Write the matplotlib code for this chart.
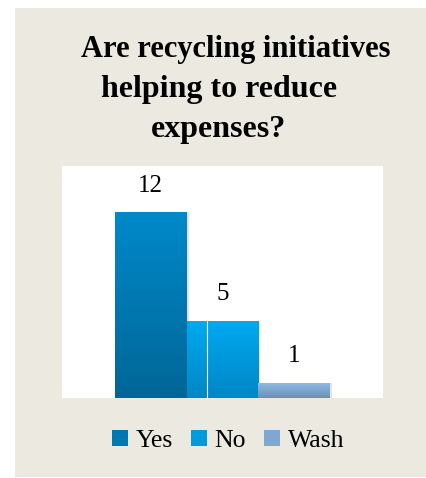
import numpy as np
import matplotlib
matplotlib.use("Agg")
import matplotlib.pyplot as plt
from matplotlib.patches import Rectangle, Patch
from matplotlib.colors import LinearSegmentedColormap

# Survey answers
categories = ["Yes", "No", "Wash"]
counts = [12, 5, 1]
title_lines = ["Are recycling initiatives", "helping to reduce", "expenses?"]

# top / bottom colours of each bar's vertical gradient
top_colors = ["#0089CA", "#00AAF0", "#90BFE8"]
bottom_colors = ["#006697", "#0087C6", "#6C8FB0"]
legend_colors = ["#0078B2", "#009BDC", "#7FA8D0"]

W, H = 427, 478
fig = plt.figure(figsize=(W / 100, H / 100), dpi=100)
fig.patch.set_facecolor("white")

# beige card behind everything
fig.patches.append(Rectangle((15 / W, 1 - 477 / H), (427 - 15) / W, (477 - 8) / H,
                             transform=fig.transFigure, facecolor="#ECEAE0",
                             edgecolor="none", zorder=-5))

serif = ["Liberation Serif", "DejaVu Serif"]

# title, one line per call to control wrapping
fig.text(236 / W, 1 - 57 / H, title_lines[0], ha="center", va="baseline",
         fontsize=22, fontweight="bold", family=serif)
fig.text(219 / W, 1 - 97 / H, title_lines[1], ha="center", va="baseline",
         fontsize=23, fontweight="bold", family=serif)
fig.text(219 / W, 1 - 137 / H, title_lines[2], ha="center", va="baseline",
         fontsize=23, fontweight="bold", family=serif)

ax = fig.add_axes([62 / W, 1 - 398 / H, (383 - 62) / W, (398 - 166) / H])
ax.set_zorder(1)
ax.set_facecolor("white")
for s in ax.spines.values():
    s.set_visible(False)
ax.set_xticks([])
ax.set_yticks([])

n = len(categories)
xs = np.arange(n) - (n - 1) / 2
bars = ax.bar(xs, counts, width=1.0, color=legend_colors, edgecolor="none", zorder=2)

# soft shadow to the right of each bar
for b in bars:
    ax.add_patch(Rectangle((b.get_x() + 0.03, 0), b.get_width(), b.get_height(),
                           facecolor="black", alpha=0.10, edgecolor="none", zorder=1))

# vertical gradient fill clipped to every bar
grad = np.linspace(0, 1, 256).reshape(-1, 1)
for b, c_top, c_bot in zip(bars, top_colors, bottom_colors):
    cmap = LinearSegmentedColormap.from_list("g", [c_bot, c_top])
    im = ax.imshow(grad, cmap=cmap, origin="lower", aspect="auto",
                   extent=(b.get_x(), b.get_x() + b.get_width(), 0, b.get_height()),
                   zorder=3)
    im.set_clip_path(b)

# thin highlight line inside the middle bar
mid = bars[1]
ax.plot([mid.get_x() + 0.29] * 2, [0, mid.get_height()], color="white", lw=0.8, zorder=4)

ax.set_xlim(-2.24, 2.24)
ax.set_ylim(0, 15)

for b, v in zip(bars, counts):
    ax.annotate(str(v), (b.get_x() + b.get_width() / 2, v), xytext=(0, 15),
                textcoords="offset points", ha="center", va="baseline",
                fontsize=18, family=serif, color="black", zorder=5)

handles = [Patch(facecolor=c, edgecolor="none") for c in legend_colors]
fig.legend(handles, categories, loc="center", bbox_to_anchor=(228 / W, 1 - 441 / H),
           ncol=3, frameon=False, prop={"family": serif, "size": 18.5},
           handlelength=0.62, handleheight=0.62, handletextpad=0.3,
           columnspacing=0.7)

fig.savefig("out.png", dpi=100)
